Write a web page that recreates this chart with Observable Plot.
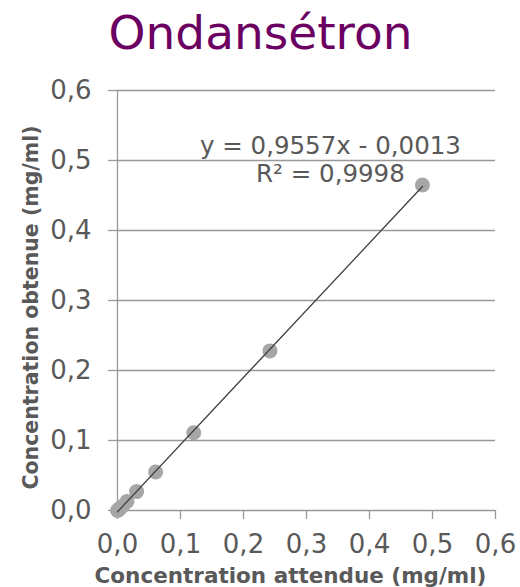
<!DOCTYPE html>
<html>
<head>
<meta charset="utf-8">
<script src="https://cdn.jsdelivr.net/npm/d3@7"></script>
<script src="https://cdn.jsdelivr.net/npm/@observablehq/plot@0.6"></script>
<style>
  html, body { margin: 0; padding: 0; background: #fff; }
</style>
</head>
<body>
<div id="chart"></div>
<script>
const title = "Ondansétron";
const xLabel = "Concentration attendue (mg/ml)";
const yLabel = "Concentration obtenue (mg/ml)";
const expected = [0, 0.0019, 0.0038, 0.0076, 0.0151, 0.0303, 0.0605, 0.121, 0.242, 0.484];
const obtained = [0, 0.001, 0.003, 0.006, 0.013, 0.027, 0.055, 0.111, 0.228, 0.465];
const ticks = [0, 0.1, 0.2, 0.3, 0.4, 0.5, 0.6];
const equationLines = ["y = 0,9557x - 0,0013", "R² = 0,9998"];
const equationPos = [{x: 0.338, y: 0.521}, {x: 0.338, y: 0.481}];

const data = expected.map((x, i) => ({x, y: obtained[i]}));
const eqData = equationLines.map((t, i) => ({t, ...equationPos[i]}));
const fmt = d => d.toFixed(1).replace(".", ",");
const font = "DejaVu Sans, Verdana, sans-serif";

const chart = Plot.plot({
  width: 520,
  height: 587,
  marginLeft: 117,
  marginRight: 25,
  marginTop: 90,
  marginBottom: 77,
  style: {fontFamily: font, background: "#fff"},
  x: {domain: [0, 0.6]},
  y: {domain: [0, 0.6]},
  marks: [
    Plot.gridY(ticks, {stroke: "#999", strokeOpacity: 1, strokeWidth: 1.3}),
    Plot.axisY(ticks, {tickSize: 9, tickPadding: 17, stroke: "#999", strokeWidth: 1.3, tickFormat: fmt, fontSize: 26, fill: "#595959", label: null}),
    Plot.axisX(ticks, {tickSize: 9, tickPadding: 15, stroke: "#999", strokeWidth: 1.3, tickFormat: fmt, fontSize: 26, fill: "#595959", label: null}),
    Plot.ruleX([0], {stroke: "#999", strokeWidth: 1.3}),
    Plot.dot(data, {x: "x", y: "y", r: 7.5, fill: "#a6a6a6", stroke: "none"}),
    Plot.linearRegressionY(data, {x: "x", y: "y", ci: 0, stroke: "#404040", strokeWidth: 1.3}),
    Plot.text(eqData, {x: "x", y: "y", text: "t", fontSize: 24.5, fill: "#595959", lineAnchor: "middle", textAnchor: "middle"}),
    Plot.text([title], {frameAnchor: "top", dx: -46, dy: -57, fontSize: 47, fill: "#6b0062", lineAnchor: "middle"}),
    Plot.text([xLabel], {frameAnchor: "bottom", dx: -16, dy: 66, fontSize: 21.5, fontWeight: "bold", fill: "#595959", lineAnchor: "middle"}),
    Plot.text([yLabel], {frameAnchor: "left", dx: -86, dy: 7, rotate: -90, textAnchor: "middle", fontSize: 20.5, fontWeight: "bold", fill: "#595959", lineAnchor: "middle"})
  ]
});
document.getElementById("chart").appendChild(chart);
</script>
</body>
</html>
